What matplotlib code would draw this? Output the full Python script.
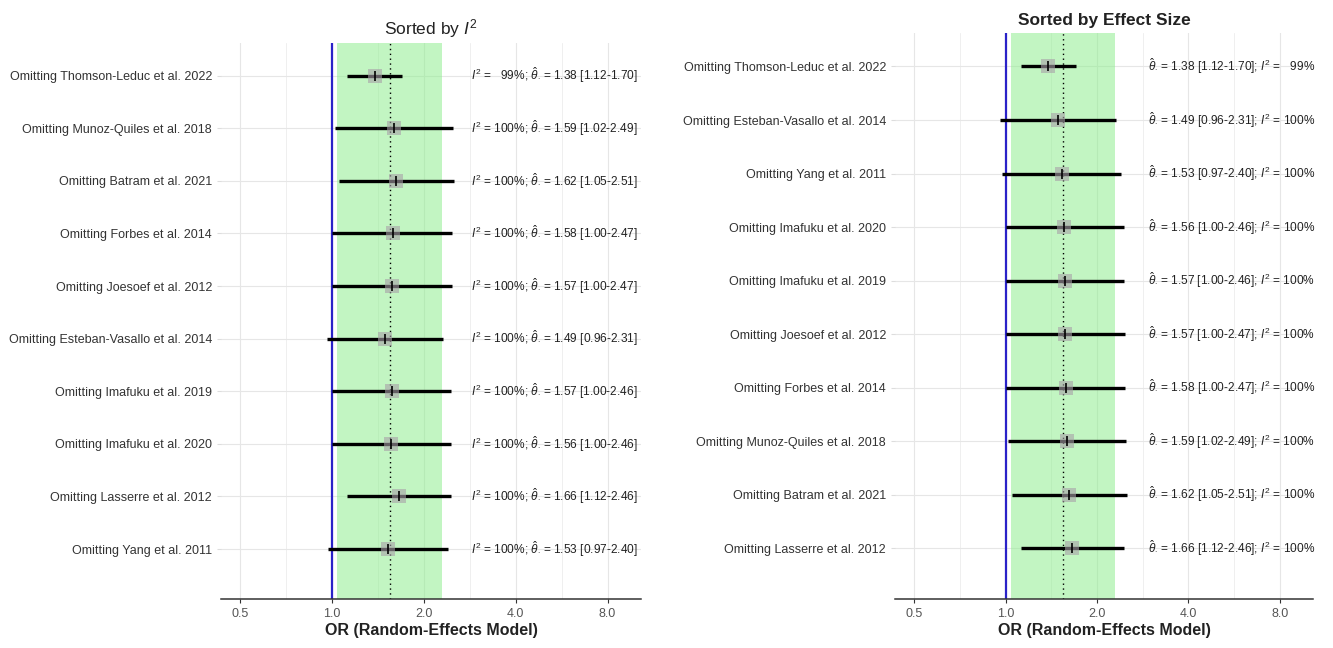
import numpy as np
import matplotlib.pyplot as plt
from matplotlib.ticker import FixedLocator, NullFormatter

plt.rcParams["font.family"] = ["Liberation Sans", "DejaVu Sans"]
plt.rcParams["mathtext.fontset"] = "custom"
plt.rcParams["mathtext.rm"] = "Liberation Sans"
plt.rcParams["mathtext.it"] = "Liberation Sans:italic"
plt.rcParams["mathtext.bf"] = "Liberation Sans:bold"

# left panel: sorted by I^2 (top to bottom)
studies_i2 = ["Thomson-Leduc et al. 2022", "Munoz-Quiles et al. 2018", "Batram et al. 2021",
              "Forbes et al. 2014", "Joesoef et al. 2012", "Esteban-Vasallo et al. 2014",
              "Imafuku et al. 2019", "Imafuku et al. 2020", "Lasserre et al. 2012", "Yang et al. 2011"]
or_i2 = [1.38, 1.59, 1.62, 1.58, 1.57, 1.49, 1.57, 1.56, 1.66, 1.53]
lo_i2 = [1.12, 1.02, 1.05, 1.00, 1.00, 0.96, 1.00, 1.00, 1.12, 0.97]
hi_i2 = [1.70, 2.49, 2.51, 2.47, 2.47, 2.31, 2.46, 2.46, 2.46, 2.40]
i2_i2 = [99, 100, 100, 100, 100, 100, 100, 100, 100, 100]

# right panel: sorted by effect size (top to bottom)
studies_es = ["Thomson-Leduc et al. 2022", "Esteban-Vasallo et al. 2014", "Yang et al. 2011",
              "Imafuku et al. 2020", "Imafuku et al. 2019", "Joesoef et al. 2012",
              "Forbes et al. 2014", "Munoz-Quiles et al. 2018", "Batram et al. 2021", "Lasserre et al. 2012"]
or_es = [1.38, 1.49, 1.53, 1.56, 1.57, 1.57, 1.58, 1.59, 1.62, 1.66]
lo_es = [1.12, 0.96, 0.97, 1.00, 1.00, 1.00, 1.00, 1.02, 1.05, 1.12]
hi_es = [1.70, 2.31, 2.40, 2.46, 2.46, 2.47, 2.47, 2.49, 2.51, 2.46]
i2_es = [99, 100, 100, 100, 100, 100, 100, 100, 100, 100]

pooled = 1.55
pooled_lo = 1.04
pooled_hi = 2.30
xticks = [0.5, 1.0, 2.0, 4.0, 8.0]


def i2_txt(v):
    return r"$I^2$ = " + ("  " if v < 100 else "") + f"{v}%"


def theta_txt(o, l, h):
    return r"$\hat{\theta}_{\cdot}$ = " + f"{o:.2f} [{l:.2f}-{h:.2f}]"


def forest(ax, studies, ors, los, his, labels, title, bold, text_x):
    n = len(studies)
    y = np.arange(n, 0, -1)
    ax.set_xscale("log", base=2)
    ax.set_xlim(0.432, 10.3)
    ax.set_ylim(0.05, n + 0.62)
    ax.axvspan(pooled_lo, pooled_hi, color="#90ee90", alpha=0.55, lw=0, zorder=1)
    ax.axvline(1.0, color="#2a22c8", lw=1.6, zorder=2)
    ax.axvline(pooled, color="black", lw=1.0, ls=(0, (1, 2.5)), zorder=2)
    ax.hlines(y, los, his, color="black", lw=2.4, zorder=3)
    ax.scatter(ors, y, marker="s", s=110, color="#a8a0a8", alpha=0.6, lw=0, zorder=4)
    ax.scatter(ors, y, marker="|", s=60, color="black", lw=1.2, zorder=5)
    for yy, t in zip(y, labels):
        ax.text(text_x, yy, t, fontsize=8.6, color="#222222", va="center", ha="left", zorder=6)

    ax.xaxis.set_major_locator(FixedLocator(xticks))
    ax.set_xticklabels([f"{t:.1f}" for t in xticks], fontsize=9, color="#555555")
    ax.xaxis.set_minor_locator(FixedLocator([t * np.sqrt(2) for t in [0.25] + xticks]))
    ax.xaxis.set_minor_formatter(NullFormatter())
    ax.set_yticks(y)
    ax.set_yticklabels(["Omitting " + s for s in studies], fontsize=9, color="#333333")
    ax.grid(True, which="major", color="#e6e6e6", lw=0.8, zorder=0)
    ax.grid(True, which="minor", axis="x", color="#ededed", lw=0.6, zorder=0)
    ax.set_axisbelow(True)
    for s in ["top", "right", "left"]:
        ax.spines[s].set_visible(False)
    ax.spines["bottom"].set_color("#333333")
    ax.spines["bottom"].set_linewidth(1.1)
    ax.tick_params(axis="x", which="major", length=3, color="#333333")
    ax.tick_params(axis="x", which="minor", length=0)
    ax.tick_params(axis="y", length=3, color="#dddddd")
    ax.set_xlabel("OR (Random-Effects Model)", fontsize=11.5, fontweight="bold", color="#222222", labelpad=2)
    ax.set_title(title, fontsize=12.5, fontweight="bold" if bold else "normal", color="#222222", pad=6)


fig = plt.figure(figsize=(13.33, 6.48), dpi=100)
ax1 = fig.add_axes([0.1658, 0.0756, 0.3151, 0.858])
ax2 = fig.add_axes([0.6714, 0.0756, 0.3136, 0.873])

lab1 = [i2_txt(i) + "; " + theta_txt(o, l, h) for i, o, l, h in zip(i2_i2, or_i2, lo_i2, hi_i2)]
lab2 = [theta_txt(o, l, h) + "; " + i2_txt(i) for i, o, l, h in zip(i2_es, or_es, lo_es, hi_es)]

forest(ax1, studies_i2, or_i2, lo_i2, hi_i2, lab1, r"Sorted by $I^2$", False, 2.85)
forest(ax2, studies_es, or_es, lo_es, hi_es, lab2, "Sorted by Effect Size", True, 2.94)

fig.savefig("out.png", dpi=100)
